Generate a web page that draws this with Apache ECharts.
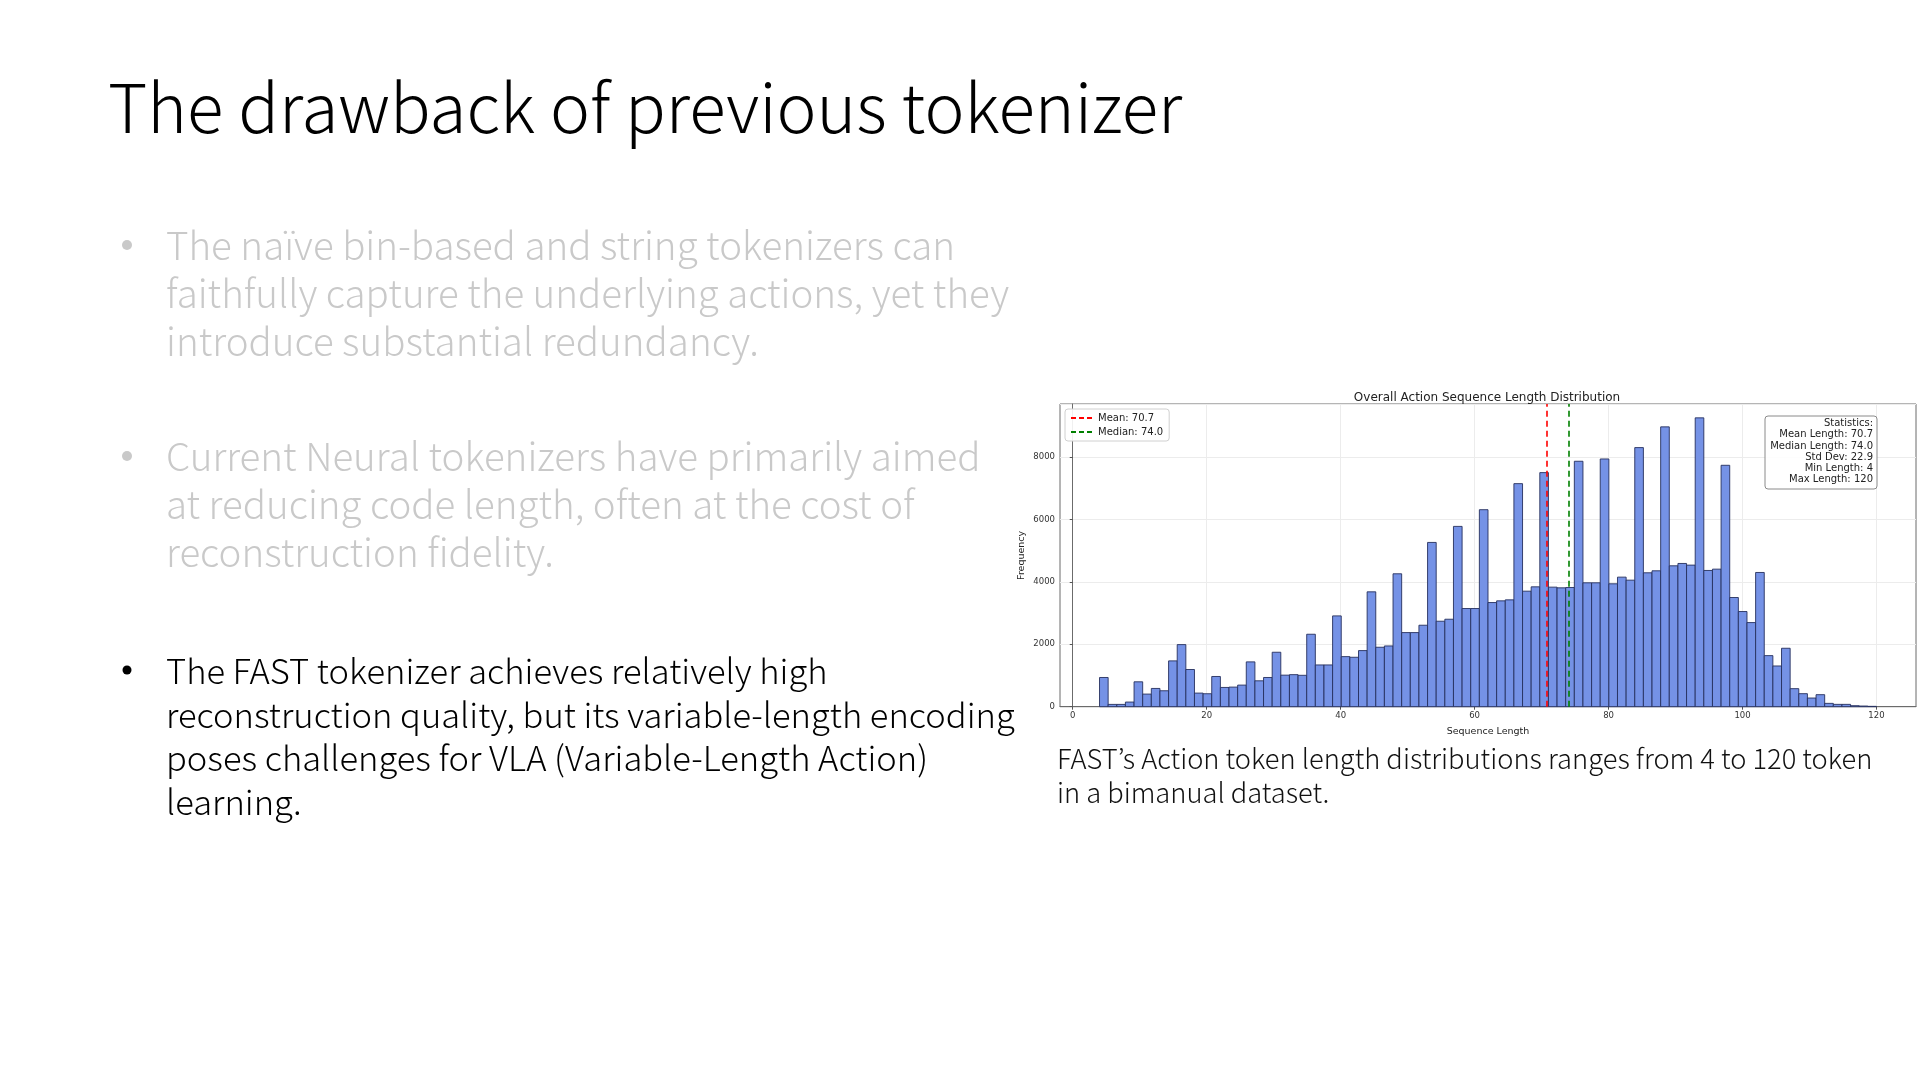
<!DOCTYPE html>
<html>
<head>
<meta charset="utf-8">
<script src="https://cdn.jsdelivr.net/npm/echarts@6/dist/echarts.min.js"></script>
<style>
  html, body { margin: 0; padding: 0; background: #fff; }
  #main { width: 1920px; height: 1080px; }
</style>
</head>
<body>
<div id="main"></div>
<script>
// histogram bins: 90 bins from 4 to 120
const binStart = 4;
const binEnd = 120;
const binCount = 90;
// frequency per bin
const counts = [
  936, 74, 74, 149, 798, 404, 585, 511, 1468, 1990, 1192, 436, 415, 968, 617, 628, 692, 1436, 830, 936, 1745, 1011,
  1027, 1006, 2322, 1338, 1338, 2910, 1605, 1584, 1798, 3681, 1905, 1947, 4259, 2375, 2375, 2611, 5264, 2739, 2803, 5778, 3146, 3146,
  6313, 3338, 3392, 3424, 7148, 3702, 3841, 7501, 3831, 3809, 3820, 7865, 3970, 3970, 7939, 3938, 4152, 4055, 8303, 4291, 4355, 8967,
  4515, 4590, 4537, 9256, 4366, 4408, 7736, 3499, 3050, 2696, 4301, 1637, 1305, 1873, 578, 417, 278, 385, 107, 75, 75, 32, 21, 11
];
const meanValue = 70.7;
const medianValue = 74.0;
const xTicks = [0, 20, 40, 60, 80, 100, 120];
const yTicks = [0, 2000, 4000, 6000, 8000];
const statsLines = ['Statistics:', 'Mean Length: 70.7', 'Median Length: 74.0', 'Std Dev: 22.9', 'Min Length: 4', 'Max Length: 120'];

// slide text
const slideTitle = 'The drawback of previous tokenizer';
const bullet1 = ['The naïve bin-based and string tokenizers can', 'faithfully capture the underlying actions, yet they', 'introduce substantial redundancy.'];
const bullet2 = ['Current Neural tokenizers have primarily aimed', 'at reducing code length, often at the cost of', 'reconstruction fidelity.'];
const bullet3 = ['The FAST tokenizer achieves relatively high', 'reconstruction quality, but its variable-length encoding', 'poses challenges for VLA (Variable-Length Action)', 'learning.'];
const caption = ['FAST\u2019s Action token length distributions ranges from 4 to 120 token', 'in a bimanual dataset.'];

const binWidth = (binEnd - binStart) / binCount;
let histData = counts.map((c, i) => [binStart + i * binWidth, binStart + (i + 1) * binWidth, c]);

const slideFont = "'Noto Sans CJK KR', 'Noto Sans', sans-serif";
const plotFont = "'DejaVu Sans', sans-serif";

//幻灯片文字
function textLines(lines, x, y0, gap, size, color) {
  return lines.map((t, i) => ({
    type: 'text',
    x: x,
    y: y0 + i * gap,
    style: { text: t, fontSize: size, fontFamily: slideFont, fontWeight: 300, fill: color, verticalAlign: 'middle' }
  }));
}

let graphics = [];
graphics.push({
  type: 'text', x: 108, y: 107,
  style: { text: slideTitle, fontSize: 67.4, fontFamily: slideFont, fontWeight: 300, fill: '#000', verticalAlign: 'middle' }
});
graphics = graphics.concat(textLines(bullet1, 166, 245, 48, 38.5, '#c9c9c9'));
graphics = graphics.concat(textLines(bullet2, 166, 456, 48, 38.5, '#c9c9c9'));
graphics = graphics.concat(textLines(bullet3, 166, 671, 43.5, 34.5, '#000'));
graphics = graphics.concat(textLines(caption, 1057, 759, 33.5, 27.3, '#111'));
graphics.push({ type: 'circle', shape: { cx: 127, cy: 245, r: 5 }, style: { fill: '#c9c9c9' } });
graphics.push({ type: 'circle', shape: { cx: 127, cy: 456, r: 5 }, style: { fill: '#c9c9c9' } });
graphics.push({ type: 'circle', shape: { cx: 127, cy: 670, r: 4.5 }, style: { fill: '#000' } });
// statistics box
graphics.push({
  type: 'rect', z: 100,
  shape: { x: 1765, y: 416, width: 112, height: 73, r: 3 },
  style: { fill: 'rgba(255,255,255,0.9)', stroke: '#8a8a8a', lineWidth: 1 }
});
graphics.push({
  type: 'text', z: 101, x: 1873, y: 418,
  style: { text: statsLines.join('\n'), fontSize: 10, lineHeight: 11.2, fontFamily: plotFont, fill: '#222', align: 'right', verticalAlign: 'top' }
});

const chart = echarts.init(document.getElementById('main'));
chart.setOption({
  backgroundColor: '#fff',
  animation: false,
  title: {
    text: 'Overall Action Sequence Length Distribution',
    left: 1482, top: 387, textAlign: 'center',
    textStyle: { fontSize: 12, fontWeight: 'normal', color: '#222', fontFamily: plotFont }
  },
  legend: {
    orient: 'vertical', left: 1065, top: 409,
    data: ['Mean: 70.7', 'Median: 74.0'],
    itemWidth: 22, itemHeight: 8, itemGap: 4,
    padding: [4, 6, 4, 5],
    borderColor: '#d0d0d0', borderWidth: 1, borderRadius: 3,
    backgroundColor: 'rgba(255,255,255,0.9)',
    itemStyle: { opacity: 0 },
    textStyle: { fontSize: 10, color: '#222', fontFamily: plotFont }
  },
  grid: {
    left: 1060, top: 404, width: 856, height: 302.7,
    show: true, borderColor: '#6b6b6b', borderWidth: 1
  },
  xAxis: {
    type: 'value', min: -1.9, max: 125.9, splitNumber: 6,
    name: 'Sequence Length', nameLocation: 'middle', nameGap: 20,
    nameTextStyle: { fontSize: 9.5, color: '#222', fontFamily: plotFont },
    axisLine: { lineStyle: { color: '#6b6b6b' } },
    axisTick: { customValues: xTicks, length: 3, lineStyle: { color: '#555' } },
    axisLabel: { customValues: xTicks, fontSize: 8.5, color: '#333', margin: 5, fontFamily: plotFont },
    splitLine: { show: true, lineStyle: { color: '#ececec' } }
  },
  yAxis: {
    type: 'value', min: 0, max: 9700, interval: 2000,
    name: 'Frequency', nameLocation: 'middle', nameGap: 33, nameRotate: 90,
    nameTextStyle: { fontSize: 9.5, color: '#222', fontFamily: plotFont },
    axisLine: { show: true, lineStyle: { color: '#6b6b6b' } },
    axisTick: { show: true, length: 3, lineStyle: { color: '#555' } },
    axisLabel: {
      fontSize: 8.5, color: '#333', margin: 5, fontFamily: plotFont, showMaxLabel: false,
      formatter: v => (yTicks.indexOf(v) > -1 ? String(v) : '')
    },
    splitLine: { show: true, lineStyle: { color: '#ececec' } }
  },
  series: [
    {
      type: 'custom',
      name: 'hist',
      encode: { x: [0, 1], y: 2 },
      data: histData,
      renderItem(params, api) {
        const p0 = api.coord([api.value(0), api.value(2)]);
        const p1 = api.coord([api.value(1), 0]);
        return {
          type: 'rect',
          shape: { x: p0[0], y: p0[1], width: p1[0] - p0[0], height: p1[1] - p0[1] },
          style: { fill: '#7592e6', stroke: '#26305e', lineWidth: 0.9 }
        };
      }
    },
    {
      type: 'line', name: 'Mean: 70.7', data: [], symbol: 'none',
      lineStyle: { color: '#ff0000', type: [5, 3], width: 1.6 },
      itemStyle: { color: '#ff0000' },
      markLine: {
        silent: true, symbol: ['none', 'none'], label: { show: false },
        lineStyle: { color: '#ff0000', type: [6, 4], width: 1.6 },
        data: [{ xAxis: meanValue }]
      }
    },
    {
      type: 'line', name: 'Median: 74.0', data: [], symbol: 'none',
      lineStyle: { color: '#008000', type: [5, 3], width: 1.6 },
      itemStyle: { color: '#008000' },
      markLine: {
        silent: true, symbol: ['none', 'none'], label: { show: false },
        lineStyle: { color: '#008000', type: [6, 4], width: 1.6 },
        data: [{ xAxis: medianValue }]
      }
    }
  ],
  graphic: graphics
});
</script>
</body>
</html>
